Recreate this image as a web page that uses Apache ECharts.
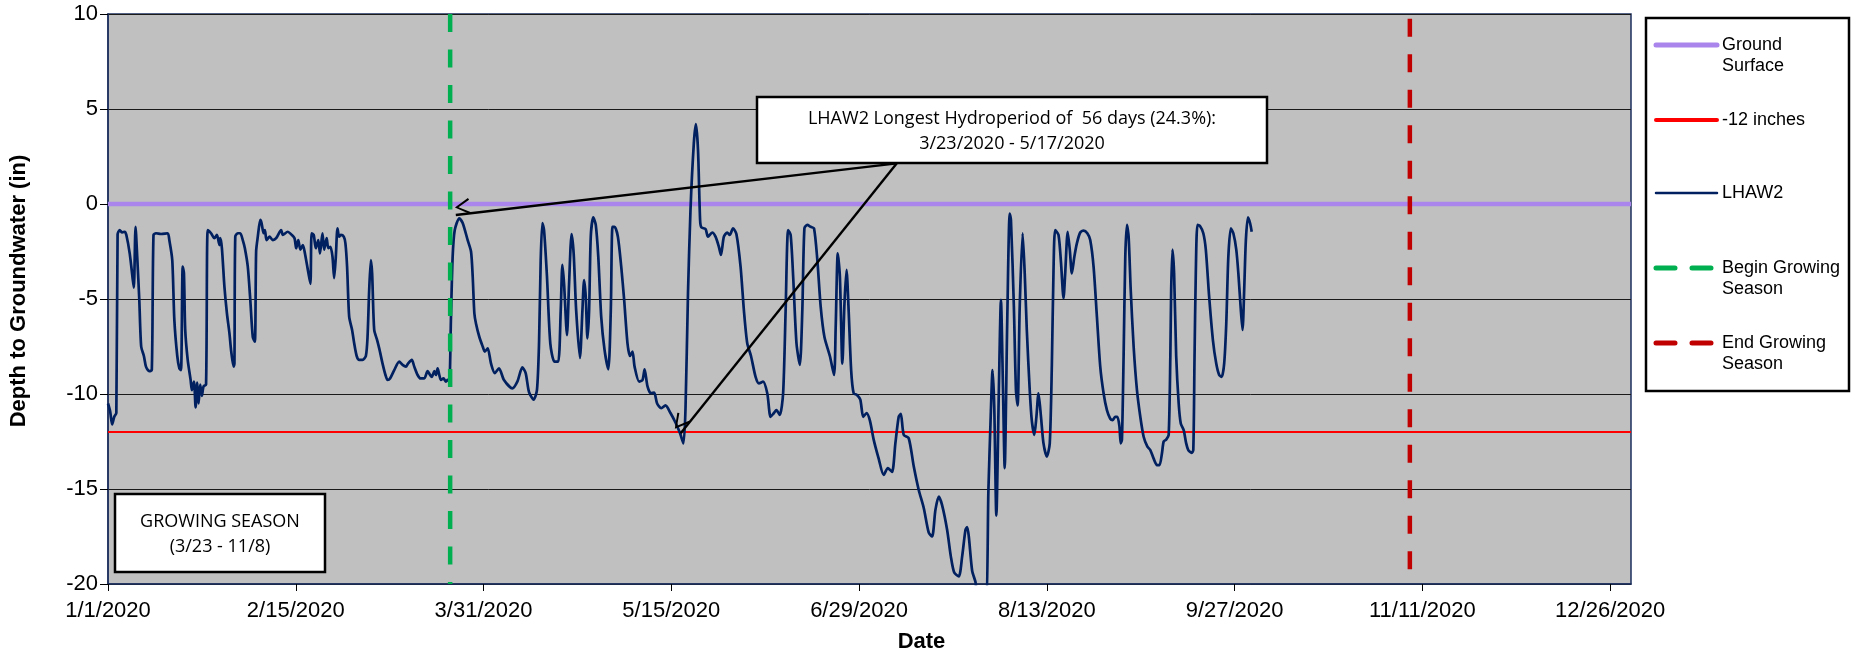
<!DOCTYPE html>
<html>
<head>
<meta charset="utf-8">
<script src="https://cdn.jsdelivr.net/npm/echarts@6/dist/echarts.min.js"></script>
<style>
html,body{margin:0;padding:0;background:#fff;}
#chart{width:1858px;height:658px;}
</style>
</head>
<body>
<div id="chart"></div>
<script>
// x values are days since 1/1/2020
const xTickLabels = ['1/1/2020','2/15/2020','3/31/2020','5/15/2020','6/29/2020','8/13/2020','9/27/2020','11/11/2020','12/26/2020'];
const xTickStep = 45;
const yTicks = [10, 5, 0, -5, -10, -15, -20];
const seriesNames = ['Ground Surface', '-12 inches', 'LHAW2', 'Begin Growing Season', 'End Growing Season'];
const groundLevel = 0;
const thresholdLevel = -12;
const growingStartDay = 82;   // 3/23
const growingEndDay = 312;    // 11/8

const lhawDays = [
0,0.5,1.0,1.5,2.0,2.3,2.8,3.4,4.0,4.4,5.2,5.95,6.2,6.6,7.0,7.5,7.95,8.6,9.1,9.9,10.5,10.9,11.5,12.7,14.3,14.7,15.4,15.9,16.6,17.1,17.5,17.9,18.2,18.5,19.1,19.8,20.1,20.6,21.0,21.4,21.7,22.1,22.5,22.9,23.5,23.9,24.7,25.5,26.1,26.7,26.9,27.3,27.9,28.5,29.1,29.5,30.1,30.3,30.5,31.1,31.7,32.3,32.8,33.5,34.1,34.7,35.2,35.5,35.9,36.5,36.8,37.3,37.6,38.0,38.7,39.5,40.3,41.5,41.9,43.1,43.9,44.7,45.1,45.6,46.1,46.7,47.2,47.9,48.5,48.8,49.3,49.8,50.4,50.8,51.4,51.8,52.4,52.8,53.3,53.8,54.2,54.6,55.0,55.4,55.8,56.5,56.9,57.3,57.8,58.5,59.0,59.6,60.2,61.0,61.8,62.2,62.6,63.0,63.3,63.8,64.5,65.0,65.8,66.5,67.0,67.6,68.6,69.8,70.6,71.4,71.9,72.8,73.4,74.2,74.9,75.8,76.6,77.2,77.6,78.2,78.6,79.0,79.4,79.8,80.4,81.0,81.4,81.8,82.2,82.6,83.1,84.2,85.0,86.2,87.0,87.4,87.8,88.2,89.0,89.8,90.3,91.0,91.8,92.7,93.7,94.9,96.9,98.1,99.3,100.1,100.9,102.0,102.8,103.3,103.7,104.1,104.5,105.2,106.0,107.0,107.9,108.5,108.9,109.3,110.0,110.5,111.1,111.6,112.2,113.1,113.7,114.1,114.5,114.9,115.3,115.7,116.3,116.9,117.5,118.2,119.0,119.9,120.5,120.9,121.4,122.2,123.0,123.7,124.5,125.1,125.7,126.2,127.3,128.1,128.6,129.3,130.1,130.9,131.6,132.6,133.6,134.8,136.0,137.1,137.9,138.4,139.0,139.6,140.4,140.9,141.4,141.9,142.2,143.2,143.8,144.8,145.6,146.4,146.9,147.6,148.4,149.0,149.8,150.6,151.6,152.4,153.2,154.1,155.2,156.0,157.0,158.0,158.8,159.6,160.2,161.0,161.8,162.4,163.0,163.6,164.2,165.0,165.8,166.4,166.9,167.6,168.4,169.2,170.0,170.8,171.7,173.0,174.0,174.4,174.9,175.4,176.0,176.5,177.0,177.5,178.1,178.7,179.5,180.3,181.0,181.8,182.6,183.5,184.7,185.9,186.9,187.9,188.7,189.5,190.0,190.7,191.9,193.1,194.3,195.5,196.7,197.5,198.3,199.1,199.9,201.1,202.0,202.8,203.9,204.7,205.5,205.9,206.3,207.1,207.9,208.5,210.3,211.0,211.5,212.0,212.4,212.9,213.5,214.0,214.5,214.9,215.5,216.1,216.4,217.1,217.6,218.0,218.5,219.2,219.7,220.2,220.9,221.4,222.0,222.5,223.0,223.6,224.2,225.0,225.7,226.2,226.6,227.0,227.8,228.4,229.0,229.4,230.0,230.5,231.0,231.6,232.2,233.0,233.8,234.7,235.4,236.2,237.0,237.8,238.6,239.4,240.2,240.8,241.4,241.9,242.4,242.7,243.0,243.4,243.8,244.2,244.6,245.1,245.8,246.6,247.4,248.2,249.1,249.8,250.6,251.4,252.0,252.6,253.0,253.6,254.2,254.6,254.8,255.1,255.5,256.0,256.6,257.1,257.8,258.4,258.9,259.7,260.1,260.4,260.7,261.1,261.7,262.5,263.1,263.9,264.8,265.6,266.3,266.9,267.5,268.0,268.5,269.1,269.7,270.4,270.9,271.5,271.9,272.3,272.7,273.2,273.7,274.1
];
const lhawDepth = [
-10.5,-10.9,-11.6,-11.2,-11.0,-1.6,-1.37,-1.5,-1.46,-1.63,-2.6,-4.0,-4.4,-1.2,-2.77,-5.05,-7.5,-8.0,-8.56,-8.8,-8.74,-1.63,-1.54,-1.58,-1.54,-1.9,-2.95,-6.1,-8.0,-8.65,-8.74,-3.3,-3.65,-6.6,-8.2,-9.26,-9.8,-9.35,-10.7,-9.4,-10.5,-9.5,-10.1,-9.6,-9.5,-1.37,-1.54,-1.8,-1.63,-2.16,-1.8,-2.33,-4.35,-5.75,-6.8,-7.7,-8.56,-8.4,-1.72,-1.54,-1.54,-1.9,-2.33,-3.3,-5.05,-7.0,-7.25,-2.5,-1.72,-0.84,-1.0,-1.54,-1.37,-1.9,-1.72,-1.9,-1.8,-1.37,-1.63,-1.46,-1.6,-1.8,-2.33,-1.9,-2.4,-2.16,-2.6,-3.47,-4.2,-1.54,-1.63,-2.33,-1.9,-2.6,-1.54,-2.4,-1.8,-2.33,-2.25,-2.77,-3.9,-2.77,-1.28,-1.72,-1.63,-1.72,-2.07,-3.3,-5.93,-6.63,-7.33,-8.0,-8.2,-8.2,-8.0,-7.0,-4.5,-2.95,-3.65,-6.63,-7.16,-7.6,-8.4,-9.0,-9.26,-9.18,-8.74,-8.3,-8.47,-8.56,-8.4,-8.2,-8.56,-9.0,-9.18,-9.18,-8.8,-9.0,-9.1,-8.8,-9.0,-8.65,-9.0,-9.26,-9.18,-9.35,-9.26,-9.35,-5.93,-2.77,-1.37,-0.75,-1.0,-1.9,-2.5,-3.8,-5.75,-6.3,-7.0,-7.5,-7.77,-7.6,-8.4,-8.9,-8.65,-9.26,-9.7,-9.35,-8.6,-8.9,-9.9,-10.3,-9.8,-7.33,-2.95,-1.0,-1.37,-3.8,-7.33,-8.3,-8.3,-5.6,-3.2,-4.2,-6.9,-4.2,-1.58,-2.6,-5.6,-8.1,-5.6,-4.0,-4.9,-7.07,-5.6,-1.72,-0.7,-1.1,-2.77,-5.93,-7.68,-8.7,-5.6,-1.2,-1.2,-1.72,-3.3,-5.05,-7.33,-8.0,-7.77,-8.56,-9.35,-9.26,-8.7,-9.6,-9.96,-9.93,-10.5,-10.75,-10.6,-11.0,-11.5,-12.07,-12.6,-10.8,-4.7,-0.3,3.2,4.2,2.85,-0.84,-1.23,-1.32,-1.72,-1.5,-1.72,-2.25,-2.68,-1.72,-1.5,-1.63,-1.28,-1.58,-3.3,-5.6,-7.33,-8.0,-9.1,-9.44,-9.35,-9.96,-11.2,-11.0,-10.85,-11.1,-9.96,-5.6,-1.37,-1.63,-3.8,-7.33,-8.47,-5.6,-1.28,-1.1,-1.2,-1.28,-2.95,-5.4,-7.0,-8.0,-9.0,-6.46,-2.6,-3.8,-8.4,-5.23,-3.47,-5.6,-8.74,-9.96,-10.05,-10.3,-11.2,-11.0,-11.4,-12.4,-13.4,-14.26,-13.9,-14.1,-12.6,-11.2,-11.05,-12.15,-12.33,-13.8,-15.05,-16.0,-17.3,-17.5,-16.1,-15.4,-15.85,-17.15,-18.56,-19.4,-19.6,-18.56,-17.15,-17.0,-17.5,-19.3,-19.9,-20.8,-20.8,-15.05,-11.5,-8.74,-10.7,-16.4,-9.8,-5.05,-9.8,-13.9,-6.3,-0.5,-0.84,-5.4,-9.8,-10.6,-5.4,-1.54,-3.65,-6.63,-9.8,-11.4,-12.15,-11.2,-9.96,-11.2,-12.6,-13.3,-12.6,-8.5,-3.5,-1.37,-1.63,-3.1,-4.96,-3.65,-1.46,-2.4,-3.65,-2.77,-2.07,-1.5,-1.4,-1.54,-1.9,-3.3,-5.93,-8.56,-9.96,-10.85,-11.3,-11.37,-11.2,-11.2,-11.7,-12.6,-12.4,-8.0,-2.77,-1.1,-1.72,-4.5,-7.5,-9.8,-11.2,-12.25,-12.77,-12.95,-13.4,-13.74,-13.74,-13.1,-12.5,-12.4,-12.15,-8.0,-4.5,-2.4,-3.65,-8.0,-10.5,-11.55,-11.9,-12.6,-12.95,-13.1,-12.95,-8.0,-3.65,-1.1,-1.16,-1.54,-2.4,-4.88,-7.16,-8.4,-9.0,-9.1,-8.4,-6.3,-2.77,-1.28,-1.54,-2.4,-3.65,-5.6,-6.63,-4.5,-1.9,-0.7,-1.0,-1.46
];

// annotation callout: arrow start (box edge) and the two arrow tips, in [day, depth]
const arrowFrom = [189.05, 2.14];
const arrowTips = [[83.35, -0.58], [137.25, -12.07]];
const calloutLines = ['LHAW2 Longest Hydroperiod of  56 days (24.3%):', '3/23/2020 - 5/17/2020'];
const seasonLines = ['GROWING SEASON', '(3/23 - 11/8)'];

const colors = {
  ground: '#A985EC', threshold: '#FF0000', lhaw: '#002060',
  begin: '#00B050', end: '#C00000', plot: '#C0C0C0', frame: '#1c2f5e'
};

const lhawData = lhawDays.map((d, i) => [d, lhawDepth[i]]);
const xMax = 365;

const chart = echarts.init(document.getElementById('chart'), null, {renderer: 'canvas'});

const legendX1 = 1656, legendX2 = 1717, legendTextX = 1722;
const legendRows = [
  {name: 'Ground Surface', lines: ['Ground', 'Surface'], y: 45, color: colors.ground, width: 5, dash: null},
  {name: '-12 inches', lines: ['-12 inches'], y: 120, color: colors.threshold, width: 4, dash: null},
  {name: 'LHAW2', lines: ['LHAW2'], y: 193, color: colors.lhaw, width: 2.5, dash: null},
  {name: 'Begin Growing Season', lines: ['Begin Growing', 'Season'], y: 268, color: colors.begin, width: 5, dash: [19, 17]},
  {name: 'End Growing Season', lines: ['End Growing', 'Season'], y: 343, color: colors.end, width: 5, dash: [19, 17]}
];

const boxFont = '18px "Open Sans"';
const graphics = [
  {type: 'rect', z: 100, shape: {x: 1646, y: 18, width: 203, height: 373},
   style: {fill: '#fff', stroke: '#000', lineWidth: 2.5}},
  {type: 'rect', z: 100, shape: {x: 757, y: 97, width: 510, height: 66},
   style: {fill: '#fff', stroke: '#000', lineWidth: 2.5}},
  {type: 'text', z: 101, x: 1012, y: 119, style: {text: calloutLines[0], font: boxFont, fill: '#000', align: 'center', verticalAlign: 'middle'}},
  {type: 'text', z: 101, x: 1012, y: 144, style: {text: calloutLines[1], font: boxFont, fill: '#000', align: 'center', verticalAlign: 'middle'}},
  {type: 'rect', z: 100, shape: {x: 115, y: 494, width: 210, height: 78},
   style: {fill: '#fff', stroke: '#000', lineWidth: 2.5}},
  {type: 'text', z: 101, x: 220, y: 522, style: {text: seasonLines[0], font: boxFont, fill: '#000', align: 'center', verticalAlign: 'middle'}},
  {type: 'text', z: 101, x: 220, y: 547, style: {text: seasonLines[1], font: boxFont, fill: '#000', align: 'center', verticalAlign: 'middle'}}
];
legendRows.forEach(r => {
  graphics.push({type: 'line', z: 101, shape: {x1: legendX1, y1: r.y, x2: legendX2, y2: r.y},
    style: {stroke: r.color, lineWidth: r.width, lineDash: r.dash || null, lineCap: 'round'}});
  r.lines.forEach((t, k) => {
    graphics.push({type: 'text', z: 101, x: legendTextX, y: r.y + k * 21,
      style: {text: t, font: '18px "Liberation Sans"', fill: '#000', align: 'left', verticalAlign: 'middle'}});
  });
});

const chevron = 'path://M8,0 L16,14 L14.2,15 L8,3.6 L1.8,15 L0,14 Z';

const option = {
  animation: false,
  backgroundColor: '#fff',
  grid: {left: 107, right: 227, top: 14, bottom: 74, show: true, backgroundColor: colors.plot,
         borderColor: colors.frame, borderWidth: 1.5, containLabel: false},
  xAxis: {
    type: 'value', min: 0, max: xMax, interval: xTickStep,
    name: 'Date', nameLocation: 'middle', nameGap: 47,
    nameTextStyle: {fontFamily: 'Liberation Sans', fontWeight: 'bold', fontSize: 22, color: '#000', padding: [0, 0, 0, 104]},
    axisLine: {show: true, onZero: false, lineStyle: {color: colors.frame, width: 1.5}},
    axisTick: {show: true, length: 7, lineStyle: {color: '#000', width: 1}},
    axisLabel: {fontFamily: 'Liberation Sans', fontSize: 22, color: '#000', margin: 16, showMaxLabel: false,
      formatter: v => (v % xTickStep === 0 ? (xTickLabels[v / xTickStep] || '') : '')},
    splitLine: {show: false}
  },
  yAxis: {
    type: 'value', min: yTicks[yTicks.length - 1], max: yTicks[0], interval: 5,
    name: 'Depth to Groundwater (in)', nameLocation: 'middle', nameGap: 78, nameRotate: 90,
    nameTextStyle: {fontFamily: 'Liberation Sans', fontWeight: 'bold', fontSize: 22, color: '#000', padding: [0, 0, 0, 16]},
    axisLine: {show: true, onZero: false, lineStyle: {color: colors.frame, width: 1.5}},
    axisTick: {show: true, length: 8, lineStyle: {color: '#000', width: 1}},
    axisLabel: {fontFamily: 'Liberation Sans', fontSize: 22, color: '#000', margin: 10},
    splitLine: {show: true, lineStyle: {color: '#1a1a1a', width: 1}}
  },
  series: [
    {name: seriesNames[0], type: 'line', symbol: 'none', silent: true, z: 2,
     data: [[0, groundLevel], [xMax, groundLevel]], lineStyle: {color: colors.ground, width: 4.5}},
    {name: seriesNames[1], type: 'line', symbol: 'none', silent: true, z: 2,
     data: [[0, thresholdLevel], [xMax, thresholdLevel]], lineStyle: {color: colors.threshold, width: 2}},
    {name: seriesNames[2], type: 'line', symbol: 'none', silent: true, z: 3, smooth: 0.25,
     data: lhawData, lineStyle: {color: colors.lhaw, width: 2.7}},
    {name: seriesNames[3], type: 'line', symbol: 'none', silent: true, z: 4,
     data: [[growingStartDay, yTicks[0]], [growingStartDay, yTicks[yTicks.length - 1]]],
     lineStyle: {color: colors.begin, width: 4.5, type: [18, 17.5]}},
    {name: seriesNames[4], type: 'line', symbol: 'none', silent: true, z: 4,
     data: [[growingEndDay, yTicks[0]], [growingEndDay, yTicks[yTicks.length - 1]]],
     lineStyle: {color: colors.end, width: 4.5, type: [18, 17.5], dashOffset: 30.7},
     markLine: {
       silent: true, animation: false,
       symbol: ['none', chevron], symbolSize: [16, 15], symbolOffset: [0, 7.5],
       lineStyle: {color: '#000', width: 2.4, type: 'solid'},
       label: {show: false},
       data: arrowTips.map(t => [{coord: arrowFrom}, {coord: t}])
     }}
  ],
  graphic: graphics
};
chart.setOption(option);
</script>
</body>
</html>
